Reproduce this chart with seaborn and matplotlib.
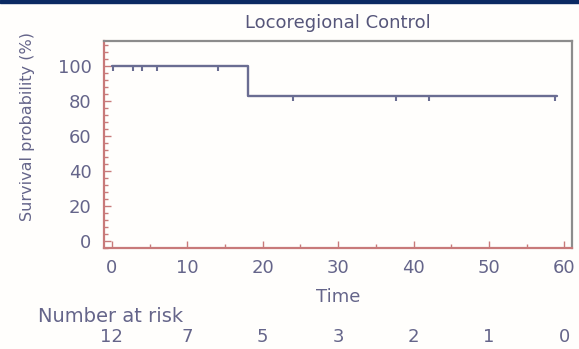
import matplotlib
matplotlib.use("Agg")
import matplotlib.pyplot as plt
from matplotlib.ticker import MultipleLocator
import seaborn as sns
import pandas as pd

# Kaplan-Meier estimate for locoregional control
km_time = [0, 18, 59]
km_surv = [100.0, 83.3, 83.3]

# censored observations (time, survival level at that time)
censor_time = [0.2, 2.8, 4.0, 6.0, 14.0, 24.0, 37.7, 42.0, 58.8]
censor_surv = [100.0, 100.0, 100.0, 100.0, 100.0, 83.3, 83.3, 83.3, 83.3]

# number at risk table
risk_time = [0, 10, 20, 30, 40, 50, 60]
at_risk = [12, 7, 5, 3, 2, 1, 0]

x_ticks = [0, 10, 20, 30, 40, 50, 60]
y_ticks = [0, 20, 40, 60, 80, 100]

sns.set_theme(style="white")
plt.rcParams["font.family"] = ["DejaVu Sans"]

text_col = "#65658a"
line_col = "#6a6d92"
red_spine = "#c87a7a"
gray_spine = "#8c8c8c"

fig = plt.figure(figsize=(5.79, 3.49), dpi=100)
fig.patch.set_facecolor("#fffefc")
ax = fig.add_axes([104 / 579, 1 - 248 / 349, (572 - 104) / 579, (248 - 41) / 349])
ax.set_facecolor("#fffefc")

km = pd.DataFrame({"time": km_time, "surv": km_surv})
cens = pd.DataFrame({"time": censor_time, "surv": censor_surv})

sns.lineplot(data=km, x="time", y="surv", estimator=None, drawstyle="steps-post",
             color=line_col, linewidth=1.7, ax=ax)
sns.lineplot(data=cens, x="time", y="surv", estimator=None, linestyle="",
             marker=3, markersize=3.5, markeredgewidth=1.5, color=line_col,
             markeredgecolor=line_col, ax=ax)

ax.set_xlim(-1.05, 61)
ax.set_ylim(-4, 114.5)
ax.set_xticks(x_ticks)
ax.set_yticks(y_ticks)
ax.xaxis.set_minor_locator(MultipleLocator(5))
ax.yaxis.set_minor_locator(MultipleLocator(4))
ax.tick_params(axis="both", which="major", direction="in", length=5, width=1,
               color=red_spine, labelsize=13, labelcolor=text_col)
ax.tick_params(axis="x", which="major", pad=8)
ax.tick_params(axis="y", which="major", pad=9)
ax.tick_params(axis="both", which="minor", direction="in", length=3, width=1,
               color=red_spine)
ax.tick_params(axis="x", which="both", bottom=True, top=False)
ax.tick_params(axis="y", which="both", left=True, right=False)

ax.spines["left"].set_color(red_spine)
ax.spines["bottom"].set_color(red_spine)
ax.spines["top"].set_color(gray_spine)
ax.spines["right"].set_color(gray_spine)
for s in ax.spines.values():
    s.set_linewidth(1.6)

ax.set_xlabel("Time", fontsize=13, color=text_col)
ax.xaxis.set_label_coords(0.5, (248 - 288) / 207)
ax.set_ylabel("Survival probability (%)", fontsize=11.5, color=text_col)
ax.yaxis.set_label_coords((35 - 104) / 468, (248 - 126) / 207)
ax.set_title("Locoregional Control", fontsize=13, color="#56567a", pad=9)

# number-at-risk rows under the axis
fig.text(38 / 579, 1 - 317 / 349, "Number at risk", fontsize=14, color=text_col,
         ha="left", va="center")
for t, n in zip(risk_time, at_risk):
    ax.annotate(str(n), xy=(t, 1 - 337 / 349), xycoords=("data", "figure fraction"),
                ha="center", va="center", fontsize=13, color=text_col)

# thin navy band along the top edge
fig.add_artist(plt.Rectangle((0, 1 - 3 / 349), 1, 3 / 349, transform=fig.transFigure,
                             color="#0b2a63", zorder=10))

fig.savefig("out.png", dpi=100, facecolor=fig.get_facecolor())
